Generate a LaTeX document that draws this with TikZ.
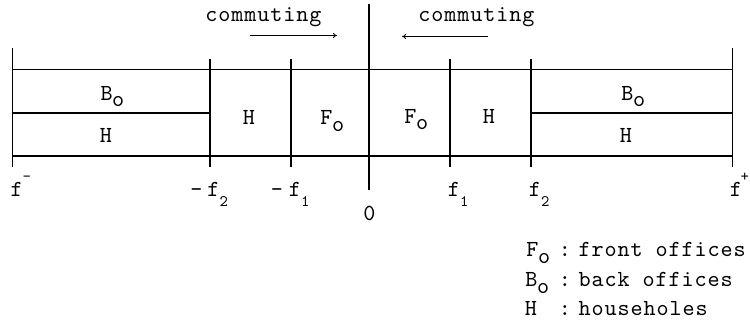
\documentclass[tikz,border=0pt]{standalone}
\usepackage{fontspec}
\usetikzlibrary{arrows.meta}
\newfontfamily\tw{lmmono10-regular.otf}[LetterSpace=4]
\newcommand\subo[1][6pt]{\rlap{\kern-0.5pt\raisebox{-#1}{o}}}
\newcommand\subn[1]{\rlap{\kern0pt\raisebox{-10pt}{\fontsize{16}{16}\selectfont #1}}}
\newcommand\supr[2][0pt]{\rlap{\kern#1\raisebox{15pt}{\fontsize{16}{16}\selectfont #2}}}
\begin{document}
\begin{tikzpicture}[x=1pt,y=-1pt,line width=1.1pt,
  lab/.style={inner sep=0pt,anchor=base,font=\tw\fontsize{23}{26}\selectfont},
  labw/.style={lab,anchor=base west},
  arr/.style={line width=0.8pt,-{To[length=4pt,width=5pt]}}]
\useasboundingbox (0,0) rectangle (750,326);
% axis positions
\coordinate (Lt) at (12.7,48);   \coordinate (Lb) at (12.7,167);
\coordinate (A2t) at (210,59);   \coordinate (A2b) at (210,167);
\coordinate (A1t) at (291,59);   \coordinate (A1b) at (291,167);
\coordinate (Ot) at (369,4);     \coordinate (Ob) at (369,190);
\coordinate (B1t) at (450,59);   \coordinate (B1b) at (450,167);
\coordinate (B2t) at (531,59);   \coordinate (B2b) at (531,167);
\coordinate (Rt) at (732.5,48);  \coordinate (Rb) at (732.5,167);
\coordinate (TL) at (12.7,69.5); \coordinate (TR) at (732.5,69.5);
\coordinate (BL) at (12.7,156);  \coordinate (BR) at (732.5,156);
\coordinate (ML1) at (12.7,113); \coordinate (ML2) at (210,113);
\coordinate (MR1) at (531,113);  \coordinate (MR2) at (732.5,113);
\draw (Lt) -- (Lb);
\draw (A2t) -- (A2b);
\draw (A1t) -- (A1b);
\draw (Ot) -- (Ob);
\draw (B1t) -- (B1b);
\draw (B2t) -- (B2b);
\draw (Rt) -- (Rb);
\draw (TL) -- (TR);
\draw (BL) -- (BR);
\draw (ML1) -- (ML2);
\draw (MR1) -- (MR2);
% commuting
\node[lab] (cl) at (263.5,21.7) {commuting};
\node[lab] (cr) at (476.5,21.7) {commuting};
\coordinate (al1) at (250,35.5); \coordinate (al2) at (337,35.5);
\coordinate (ar1) at (488,36.5); \coordinate (ar2) at (402,36.5);
\draw[arr] (al1) -- (al2);
\draw[arr] (ar1) -- (ar2);
% band labels
\node[lab] (bo1) at (106.7,100.7) {B\subo};
\node[lab] (h1) at (106,142.5) {H};
\node[lab] (h2) at (249,125) {H};
\node[lab] (fo1) at (326.5,125) {F\subo};
\node[lab] (fo2) at (410.5,124) {F\subo};
\node[lab] (h3) at (489,124) {H};
\node[lab] (bo2) at (627.5,100.7) {B\subo};
\node[lab] (h4) at (626,143) {H};
% axis labels
\node[lab] (fm) at (16.7,196.7) {f\supr{-}};
\node[lab] (mf2) at (213.5,196.7) {\llap{-\kern5pt}f\subn{2}};
\node[lab] (mf1) at (295,196.7) {\llap{-\kern6pt}f\subn{1}};
\node[lab] (zero) at (369.5,220) {0};
\node[lab] (f1) at (454,196.7) {f\subn{1}};
\node[lab] (f2) at (535,196.7) {f\subn{2}};
\node[lab] (fp) at (736,196.7) {f\supr[-1.5pt]{+}};
% legend
\node[lab] (lf) at (532.5,256.7) {F\subo[6.6pt]};
\node[lab] (lb) at (531.5,286.7) {B\subo[6.6pt]};
\node[lab] (lh) at (531,315) {H};
\node[lab] (c1) at (565,256.7) {:};
\node[lab] (c2) at (565,286.7) {:};
\node[lab] (c3) at (565,315) {:};
\node[labw] (t1) at (578,256.7) {front offices};
\node[labw] (t2) at (578,286.7) {back offices};
\node[labw] (t3) at (578,315) {householes};
\end{tikzpicture}
\end{document}
